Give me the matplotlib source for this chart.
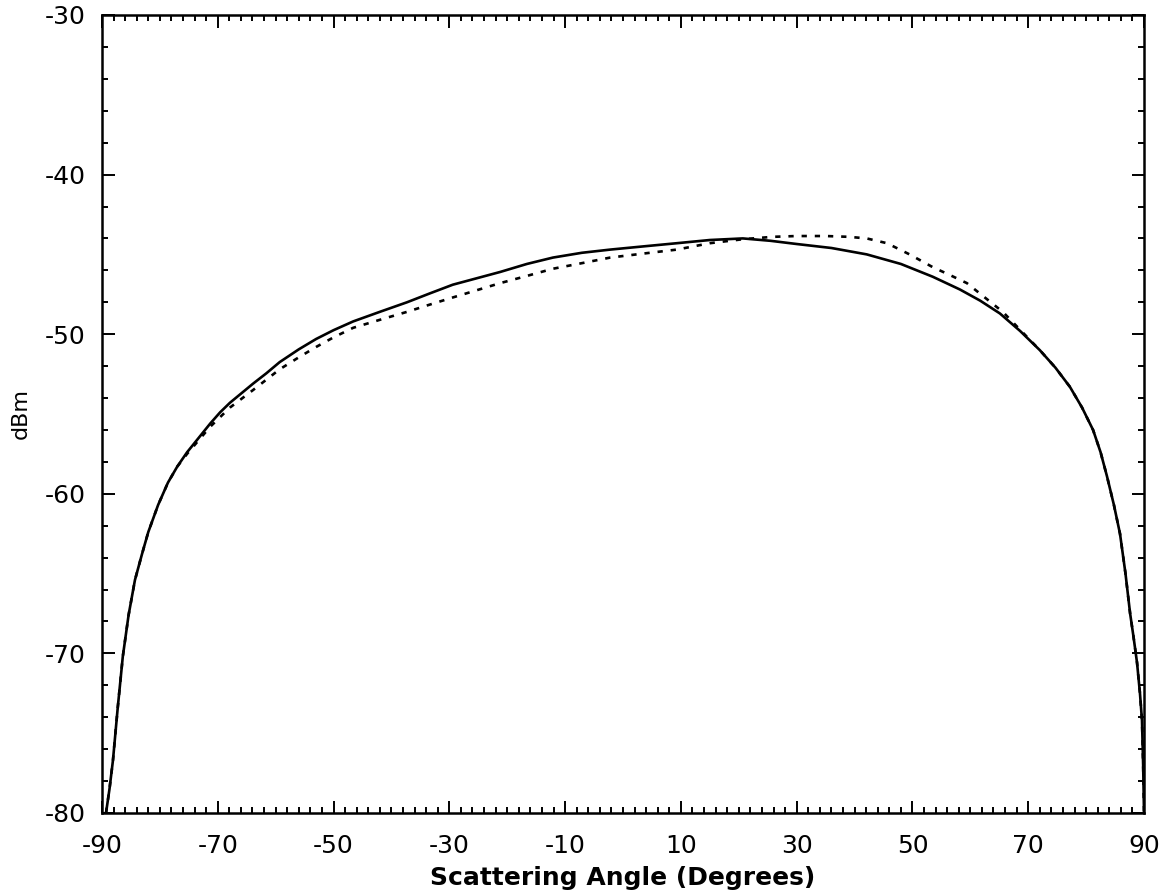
import matplotlib
matplotlib.use("Agg")
import matplotlib.pyplot as plt
from matplotlib.ticker import MultipleLocator

# measured scattered power vs angle (solid line)
angle_meas = [-89.3, -88.7, -88.1, -87.3, -86.4, -85.4, -84.3, -83.1, -82.0, -80.3,
              -78.6, -77.0, -75.3, -73.3, -71.3, -69.6, -67.9, -65.9, -63.9, -61.6,
              -59.3, -56.0, -53.0, -50.0, -46.6, -42.0, -37.3, -33.4, -29.4, -25.3,
              -21.2, -16.6, -12.1, -7.1, -2.2, 3.5, 9.3, 15.0, 20.7, 25.5,
              30.0, 36.0, 42.1, 48.0, 53.5, 58.2, 61.7, 65.1, 68.6, 72.0,
              74.7, 77.2, 79.3, 81.2, 82.5, 83.6, 84.8, 85.85, 86.8, 87.6,
              88.2, 88.8, 89.3, 89.65, 89.85, 90.0]
power_meas = [-80.0, -78.5, -76.7, -73.5, -70.2, -67.6, -65.4, -63.8, -62.4, -60.7,
              -59.3, -58.3, -57.4, -56.5, -55.6, -54.9, -54.3, -53.7, -53.1, -52.45,
              -51.75, -50.95, -50.3, -49.75, -49.2, -48.6, -48.0, -47.45, -46.9, -46.5,
              -46.1, -45.6, -45.2, -44.9, -44.7, -44.5, -44.3, -44.1, -44.0, -44.15,
              -44.35, -44.6, -45.0, -45.6, -46.4, -47.2, -47.9, -48.7, -49.8, -51.0,
              -52.1, -53.3, -54.6, -56.0, -57.4, -58.9, -60.7, -62.5, -65.0, -67.5,
              -69.0, -70.6, -72.5, -74.2, -77.0, -80.0]

# model prediction (dotted line)
angle_model = [-89.3, -88.7, -88.1, -87.3, -86.4, -85.4, -84.3, -83.1, -82.0, -80.3,
               -78.6, -77.0, -75.3, -73.3, -71.3, -69.6, -67.9, -65.9, -63.9, -61.6,
               -59.3, -56.0, -53.0, -50.0, -46.6, -42.0, -37.3, -33.4, -29.4, -25.3,
               -21.2, -16.6, -12.1, -7.1, -2.2, 3.5, 9.3, 15.0, 20.7, 25.9,
               30.0, 35.0, 39.0, 42.1, 45.6, 49.5, 53.5, 56.5, 59.4, 62.5,
               65.6, 68.8, 72.0, 74.7, 77.2, 79.3, 81.2, 82.5, 83.6, 84.8,
               85.85, 86.8, 87.6, 88.2, 88.8, 89.3, 89.65, 89.85, 90.0]
power_model = [-80.0, -78.5, -76.7, -73.5, -70.2, -67.6, -65.4, -63.8, -62.4, -60.7,
               -59.3, -58.3, -57.5, -56.65, -55.8, -55.2, -54.6, -54.05, -53.5, -52.85,
               -52.2, -51.45, -50.8, -50.2, -49.6, -49.1, -48.6, -48.15, -47.7, -47.25,
               -46.8, -46.35, -45.9, -45.55, -45.2, -44.95, -44.7, -44.3, -44.05, -43.9,
               -43.85, -43.85, -43.9, -44.0, -44.3, -45.0, -45.8, -46.3, -46.8, -47.7,
               -48.6, -49.8, -51.0, -52.1, -53.3, -54.6, -56.0, -57.4, -58.9, -60.7,
               -62.5, -65.0, -67.5, -69.0, -70.6, -72.5, -74.2, -77.0, -80.0]

x_ticks = [-90, -70, -50, -30, -10, 10, 30, 50, 70, 90]
y_ticks = [-80, -70, -60, -50, -40, -30]

plt.rcParams["axes.unicode_minus"] = False
plt.rcParams["font.family"] = "DejaVu Sans"

fig = plt.figure(figsize=(11.76, 8.92), dpi=100)
ax = fig.add_axes([0.0867, 0.0886, 0.8861, 0.8946])

ax.plot(angle_meas, power_meas, color="black", lw=1.9)
ax.plot(angle_model, power_model, color="black", lw=1.9, linestyle=(0, (2, 3)))

ax.set_xlim(-90, 90)
ax.set_ylim(-80, -30)
ax.set_xticks(x_ticks)
ax.set_yticks(y_ticks)
ax.xaxis.set_minor_locator(MultipleLocator(2))
ax.yaxis.set_minor_locator(MultipleLocator(2))

ax.tick_params(which="both", direction="in", top=True, right=True,
               width=1.4, colors="black")
ax.tick_params(which="major", length=9, labelsize=18)
ax.tick_params(which="minor", length=4.5)
ax.tick_params(axis="x", which="major", pad=15)
ax.tick_params(axis="y", which="major", pad=12)

for s in ax.spines.values():
    s.set_linewidth(1.8)

ax.set_xlabel("Scattering Angle (Degrees)", fontsize=18, fontweight="bold", labelpad=6)
ax.set_ylabel("dBm", fontsize=16, labelpad=10)

fig.savefig("out.png", dpi=100)
